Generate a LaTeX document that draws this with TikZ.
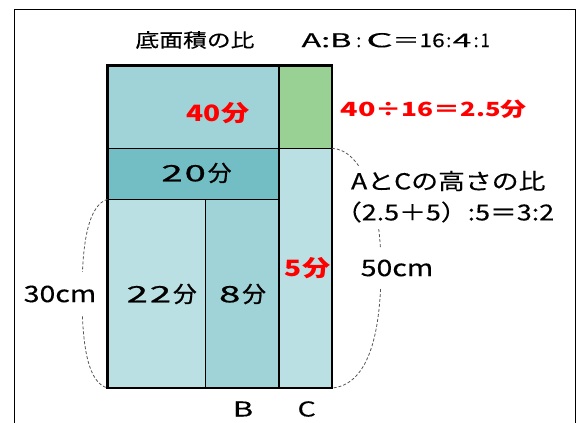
\documentclass[tikz,border=0pt]{standalone}
\usepackage{fontspec}
\setmainfont{Noto Sans CJK JP}
\newfontfamily\medfont{Noto Sans CJK JP}[FakeBold=0.8]
\newfontfamily\regfont{Noto Sans CJK JP}[FakeBold=0.3]
\definecolor{tA}{HTML}{A0D3D7}
\definecolor{tG}{HTML}{99D194}
\definecolor{tD}{HTML}{72BEC4}
\definecolor{tL}{HTML}{BBE0E3}
\definecolor{redT}{HTML}{FF0000}
\definecolor{dashc}{HTML}{555555}
\newlength\mylen
\newcommand{\myx}[2]{\scalebox{#1}[1]{#2}}
\newcommand{\xfit}[2]{\settowidth\mylen{#2}\scalebox{\fpeval{(#1)/(\the\mylen)}}[1]{#2}}
\newcommand{\dig}[1]{\scalebox{1.7}[1]{#1}}
\newcommand{\fen}{\scalebox{1.05}[1]{分}}
\tikzset{
  cell/.style={draw=black, line width=1.2pt},
  txt/.style={inner sep=0pt, outer sep=0pt},
  whitetxt/.style={inner sep=0pt, outer sep=0pt, fill=white},
  dashcurve/.style={draw=dashc, line width=0.8pt, dash pattern=on 3pt off 2pt},
  lab/.style={txt, font=\medfont\fontsize{22.5}{24}\selectfont},
}
\begin{document}
\begin{tikzpicture}[x=1pt,y=-1pt]
\useasboundingbox (0,0) rectangle (582,423);
\begin{scope}
  \clip (0,0) rectangle (582,423);
  \draw[line width=1.6pt] (14.5,9.5) rectangle (575.5,440);
\end{scope}
% grid coordinates
\coordinate (p00) at (107.5,65.5);
\coordinate (pC0) at (279,65.5);
\coordinate (p10) at (332,65.5);
\coordinate (p01) at (107.5,148.3);
\coordinate (pC1) at (279,148.3);
\coordinate (p11) at (332,148.3);
\coordinate (p02) at (107.5,199.3);
\coordinate (pB2) at (205.7,199.3);
\coordinate (pC2) at (279,199.3);
\coordinate (p03) at (107.5,388);
\coordinate (pB3) at (205.7,388);
\coordinate (pC3) at (279,388);
\coordinate (p13) at (332,388);
% cells
\path[cell, fill=tA] (p00) rectangle (pC1);
\path[cell, fill=tG] (pC0) rectangle (p11);
\path[cell, fill=tD] (p01) rectangle (pC2);
\path[cell, fill=tL] (p02) rectangle (pB3);
\path[cell, fill=tA] (pB2) rectangle (pC3);
\path[cell, fill=tL] (pC1) rectangle (p13);
\draw[line width=2.6pt] (p00) rectangle (p13);
% dashed curves
\draw[dashcurve] (p02) .. controls (89,205) and (82,240) .. (82,294) .. controls (82,350) and (89,383) .. (p03);
\draw[dashcurve] (p11) .. controls (362,150) and (381,200) .. (381,268) .. controls (381,340) and (366,385) .. (p13);
% texts
\node[txt, anchor=west] (title) at (135.5,40) {\regfont\fontsize{19}{20}\selectfont
  \xfit{119}{底面積の比}\hspace{47pt}\xfit{50}{A:B}\makebox[14.6pt]{:}\xfit{26.7}{C}\xfit{26.7}{＝}\xfit{25.3}{16}\makebox[8pt]{:}\xfit{18.7}{4}\makebox[9.3pt]{:}\xfit{9}{1}};
\node[txt, text=redT] (ared) at (218,113) {\fontsize{22.5}{24}\selectfont\bfseries\myx{1.25}{40分}};
\node[txt, text=redT, anchor=west] (calc) at (340.5,109) {\fontsize{19.5}{22}\selectfont\bfseries
  \xfit{35}{40}\xfit{26.3}{÷}\xfit{32}{16}\xfit{27}{＝}\xfit{40}{2.5}\xfit{26}{分}};
\node[lab] (b20) at (196.5,173) {\dig{2}\kern2pt\dig{0}\kern2pt\fen};
\node[lab] (b22) at (161.7,294) {\dig{2}\kern2pt\dig{2}\kern2pt\fen};
\node[lab] (b8) at (242.5,294) {\dig{8}\kern2pt\fen};
\node[txt, text=redT] (c5) at (307.5,268) {\fontsize{22.5}{24}\selectfont\bfseries\myx{1.25}{5分}};
\node[whitetxt, minimum height=44pt, minimum width=74pt] (h30) at (60,294) {\regfont\fontsize{22.8}{24}\selectfont\myx{1.25}{30cm}};
\node[whitetxt, minimum height=40pt, minimum width=74pt] (h50) at (397,268) {\regfont\fontsize{22.8}{24}\selectfont\myx{1.25}{50cm}};
\node[whitetxt, anchor=west, minimum height=30pt] (r1) at (351,181) {\regfont\fontsize{22}{24}\selectfont\myx{1.22}{AとCの高さの比}};
\node[whitetxt, anchor=west, minimum height=34pt] (r2) at (335,212) {\regfont\fontsize{22}{24}\selectfont\myx{1.22}{（2.5＋5）:5＝3:2}};
\node[txt] (lb) at (243,409) {\regfont\fontsize{20.5}{22}\selectfont\myx{1.5}{B}};
\node[txt] (lc) at (306.7,409) {\regfont\fontsize{20.5}{22}\selectfont\myx{1.4}{C}};
\end{tikzpicture}
\end{document}
